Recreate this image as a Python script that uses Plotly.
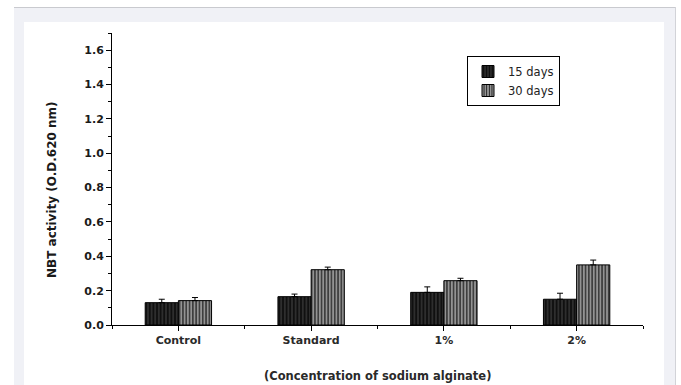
import plotly.graph_objects as go

# NBT activity by sodium alginate concentration
categories = ["Control", "Standard", "1%", "2%"]
days15 = [0.13, 0.165, 0.19, 0.15]
days15_err = [0.02, 0.015, 0.032, 0.035]
days30 = [0.142, 0.322, 0.258, 0.35]
days30_err = [0.018, 0.015, 0.014, 0.028]
series_names = ["15 days", "30 days"]

W, H = 681, 385
L, R, T, B = 112, 643, 33, 325  # plot area in pixels


def px_x(px):
    return (px - L) / (R - L)


def px_y(py):
    return (B - py) / (B - T)


xpos = list(range(len(categories)))

fig = go.Figure()
fig.add_trace(go.Bar(
    x=xpos, y=days15, name=series_names[0],
    marker=dict(
        color="#262626",
        line=dict(color="#000000", width=1),
        pattern=dict(shape="|", fillmode="replace", bgcolor="#2e2e2e",
                     fgcolor="#0c0c0c", size=3.6, solidity=0.45),
    ),
    error_y=dict(type="data", array=days15_err, arrayminus=[0] * len(days15_err),
                 symmetric=False, color="#000000", thickness=1, width=3),
))
fig.add_trace(go.Bar(
    x=xpos, y=days30, name=series_names[1],
    marker=dict(
        color="#8c8c8c",
        line=dict(color="#000000", width=1),
        pattern=dict(shape="|", fillmode="replace", bgcolor="#939393",
                     fgcolor="#1a1a1a", size=3.3, solidity=0.35),
    ),
    error_y=dict(type="data", array=days30_err, arrayminus=[0] * len(days30_err),
                 symmetric=False, color="#000000", thickness=1, width=3),
))

# page frame: light grey band with a white panel inside
frame = [
    dict(type="rect", xref="paper", yref="paper", layer="below",
         x0=px_x(14), x1=px_x(675), y0=px_y(7), y1=px_y(400),
         fillcolor="#f0f1f6", line=dict(width=0)),
    dict(type="rect", xref="paper", yref="paper", layer="below",
         x0=px_x(24), x1=px_x(664), y0=px_y(22), y1=px_y(400),
         fillcolor="#ffffff", line=dict(width=0)),
    dict(type="line", xref="paper", yref="paper", layer="below",
         x0=px_x(14), x1=px_x(676), y0=px_y(7.5), y1=px_y(7.5),
         line=dict(color="#c9cacf", width=1)),
    dict(type="line", xref="paper", yref="paper", layer="below",
         x0=px_x(675.5), x1=px_x(675.5), y0=px_y(7), y1=px_y(400),
         line=dict(color="#d2d3d8", width=1)),
]

fig.update_layout(
    width=W, height=H,
    margin=dict(l=L, r=W - R, t=T, b=H - B, pad=0),
    paper_bgcolor="#ffffff",
    plot_bgcolor="rgba(0,0,0,0)",
    barmode="group", bargap=0.5, bargroupgap=0,
    shapes=frame,
    font=dict(family="DejaVu Sans, Arial", color="#1a1a1a"),
    legend=dict(
        x=px_x(467), y=px_y(56), xanchor="left", yanchor="top",
        bgcolor="#ffffff", bordercolor="#000000", borderwidth=1,
        font=dict(family="DejaVu Sans", size=11.5, color="#222222"),
        itemwidth=30, tracegroupgap=0,
    ),
    xaxis=dict(
        range=[-0.5, 3.5], tickmode="array", tickvals=xpos, ticktext=categories,
        showgrid=False, zeroline=False,
        showline=True, linecolor="#000000", linewidth=1,
        ticks="outside", ticklen=5, tickcolor="#000000", tickwidth=1,
        tickfont=dict(family="DejaVu Sans", size=11, color="#2a2a2a", weight="bold"),
        minor=dict(tickmode="linear", tick0=0.5, dtick=1, ticks="outside",
                   ticklen=3, tickcolor="#000000", showgrid=False),
    ),
    yaxis=dict(
        range=[0, 1.7], tickmode="linear", tick0=0, dtick=0.2, tickformat=".1f",
        showgrid=False, zeroline=False,
        showline=True, linecolor="#000000", linewidth=1,
        ticks="outside", ticklen=5, tickcolor="#000000", tickwidth=1,
        tickfont=dict(family="DejaVu Sans", size=11, color="#1a1a1a", weight="bold"),
        minor=dict(tickmode="linear", tick0=0.1, dtick=0.2, ticks="outside",
                   ticklen=3, tickcolor="#000000", showgrid=False),
    ),
    annotations=[
        dict(text="NBT activity (O.D.620 nm)", textangle=-90,
             xref="paper", yref="paper", x=px_x(52), y=px_y(190),
             xanchor="center", yanchor="middle", showarrow=False,
             font=dict(family="DejaVu Sans", size=12, color="#1a1a1a", weight="bold")),
        dict(text="(Concentration of sodium alginate)",
             xref="paper", yref="paper", x=px_x(377), y=px_y(376),
             xanchor="center", yanchor="middle", showarrow=False,
             font=dict(family="DejaVu Sans", size=11.5, color="#2a2a2a", weight="bold")),
    ],
)

fig.write_html("out.html")
